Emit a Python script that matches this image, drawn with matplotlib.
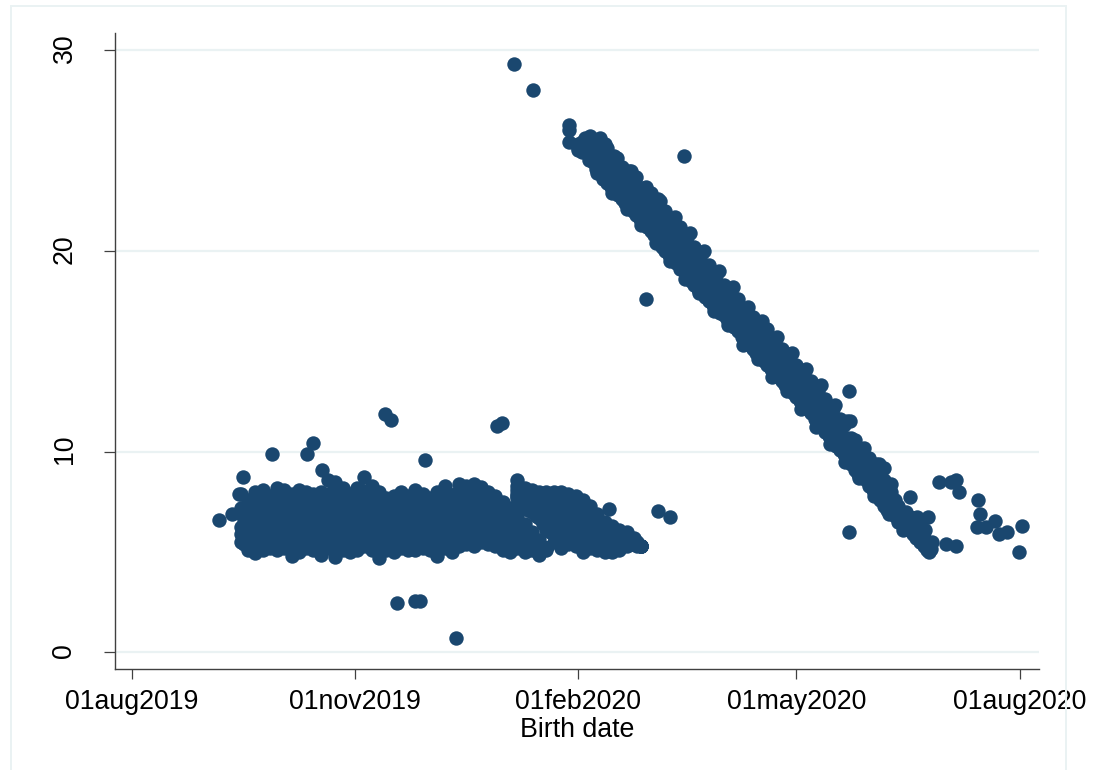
import matplotlib
matplotlib.use("Agg")
import matplotlib.pyplot as plt
from matplotlib.patches import Rectangle
from matplotlib.transforms import ScaledTranslation

plt.rcParams["font.family"] = ["Liberation Sans", "DejaVu Sans"]

# all x values are days since 01aug2019
tick_days = [0, 92, 184, 274, 366]
tick_names = ["01aug2019", "01nov2019", "01feb2020", "01may2020", "01aug2020"]
y_ticks = [0, 10, 20, 30]

# flat cloud, left part
flat_day = [45, 48, 51, 54, 57, 60, 63, 66, 69, 72, 75, 78, 81, 84, 87, 90, 93, 96, 99, 102, 105, 108,
            111, 114, 117, 120, 123, 126, 129, 132, 135, 138, 141, 144, 147, 150, 153, 156, 159, 162,
            165, 168, 171]
flat_top = [7.9, 7.6, 8.0, 8.1, 7.8, 8.2, 8.1, 7.9, 8.1, 8.0, 7.9, 8.0, 8.6, 8.5, 8.2, 7.9, 8.2, 8.75, 8.3, 8.0, 7.7, 7.8,
            8.0, 7.8, 8.1, 7.9, 7.7, 8.0, 8.3, 7.8, 8.4, 8.3, 8.4, 8.25, 8.0, 7.8, 7.5, 7.2, 6.8, 6.4,
            6.0, 5.6, 5.2]
flat_r1 = [7.2, 7.2, 7.4, 7.5, 7.3, 7.5, 7.6, 7.3, 7.4, 7.5, 7.3, 7.4, 7.8, 7.7, 7.6, 7.3, 7.5, 7.9, 7.6, 7.4, 7.2, 7.3,
           7.4, 7.3, 7.5, 7.3, 7.2, 7.4, 7.6, 7.3, 7.7, 7.6, 7.7, 7.6, 7.4, 7.2, 7.0, 6.8, 6.5, 6.1,
           5.8, 5.4, 5.1]
flat_r2 = [6.9, 6.8, 6.8, 6.9, 6.7, 6.9, 7.0, 6.8, 6.9, 6.8, 6.7, 6.9, 7.1, 7.0, 6.9, 6.8, 6.9, 7.1, 7.0, 6.8, 6.7, 6.8,
           6.9, 6.7, 6.9, 6.8, 6.7, 6.8, 7.0, 6.8, 7.0, 7.0, 7.1, 7.0, 6.9, 6.7, 6.5, 6.3, 6.1, 5.8,
           5.6, 5.2, 5.2]
flat_r3 = [6.25, 6.3, 6.2, 6.3, 6.1, 6.3, 6.4, 6.2, 6.3, 6.2, 6.1, 6.3, 6.5, 6.4, 6.3, 6.2, 6.3, 6.5, 6.4, 6.2, 6.1, 6.2,
           6.3, 6.1, 6.3, 6.2, 6.1, 6.2, 6.4, 6.2, 6.4, 6.5, 6.5, 6.5, 6.4, 6.2, 6.0, 5.9, 5.8, 5.5,
           5.4, 5.1, 5.2]
flat_r4 = [5.9, 5.7, 5.6, 5.7, 5.6, 5.7, 5.8, 5.5, 5.7, 5.7, 5.6, 5.7, 5.9, 5.6, 5.8, 5.6, 5.7, 5.9, 5.8, 5.5, 5.6, 5.6,
           5.8, 5.6, 5.7, 5.7, 5.6, 5.5, 5.8, 5.6, 5.9, 5.9, 5.9, 6.0, 5.9, 5.8, 5.6, 5.5, 5.5, 5.2,
           5.3, 5.0, 5.2]
flat_bot = [5.5, 5.1, 4.95, 5.1, 5.2, 5.1, 5.2, 4.8, 5.0, 5.2, 5.1, 4.85, 5.2, 4.75, 5.1, 5.0, 5.1, 5.3, 5.1, 4.7, 5.1, 5.0,
            5.2, 5.1, 5.1, 5.2, 5.1, 4.8, 5.2, 5.0, 5.3, 5.4, 5.3, 5.5, 5.4, 5.3, 5.1, 5.0, 5.2, 5.0,
            5.1, 4.85, 5.2]

# births between those columns
flat2_day = [46.5, 49.5, 52.5, 55.5, 58.5, 61.5, 64.5, 67.5, 70.5, 73.5, 76.5, 79.5, 82.5, 85.5, 88.5, 91.5,
             94.5, 97.5, 100.5, 103.5, 106.5, 109.5, 112.5, 115.5, 118.5, 121.5, 124.5, 127.5, 130.5, 133.5,
             136.5, 139.5, 142.5, 145.5, 148.5, 151.5, 154.5, 157.5, 160.5, 163.5, 166.5]
flat2_a = [7.0, 7.5, 7.7, 7.6, 7.7, 7.8, 7.6, 7.6, 7.7, 7.6, 7.6, 7.9, 8.0, 7.9, 7.6, 7.7, 8.1, 7.9, 7.6, 7.4, 7.5,
           7.7, 7.5, 7.7, 7.6, 7.4, 7.6, 7.9, 7.5, 7.9, 7.9, 8.0, 7.9, 7.6, 7.4, 7.2, 7.0, 6.6, 6.2, 5.9, 5.5]
flat2_b = [6.9, 7.0, 7.1, 7.2, 7.0, 7.2, 7.3, 7.1, 7.2, 7.1, 7.0, 7.2, 7.4, 7.3, 7.2, 7.1, 7.2, 7.4, 7.3, 7.1, 7.0,
           7.1, 7.2, 7.0, 7.2, 7.1, 7.0, 7.1, 7.3, 7.1, 7.3, 7.3, 7.4, 7.3, 7.1, 6.9, 6.7, 6.5, 6.3, 5.9, 5.6]
flat2_c = [6.5, 6.5, 6.5, 6.6, 6.4, 6.6, 6.7, 6.5, 6.6, 6.5, 6.4, 6.6, 6.8, 6.7, 6.6, 6.5, 6.6, 6.8, 6.7, 6.5, 6.4,
           6.5, 6.6, 6.4, 6.6, 6.5, 6.4, 6.5, 6.7, 6.5, 6.7, 6.7, 6.8, 6.7, 6.6, 6.4, 6.2, 6.0, 5.9, 5.6, 5.4]
flat2_d = [6.0, 6.0, 5.9, 6.0, 5.8, 6.0, 6.1, 5.9, 6.0, 5.9, 5.8, 6.0, 6.2, 6.0, 6.0, 5.9, 6.0, 6.2, 6.1, 5.9, 5.8,
           5.9, 6.0, 5.8, 6.0, 5.9, 5.8, 5.9, 6.1, 5.9, 6.1, 6.2, 6.2, 6.2, 6.1, 6.0, 5.8, 5.7, 5.6, 5.3, 5.3]
flat2_e = [5.4, 5.3, 5.3, 5.4, 5.4, 5.4, 5.5, 5.2, 5.3, 5.4, 5.3, 5.4, 5.5, 5.2, 5.4, 5.3, 5.4, 5.6, 5.4, 5.3, 5.3,
           5.3, 5.5, 5.3, 5.4, 5.4, 5.3, 5.2, 5.5, 5.3, 5.6, 5.6, 5.6, 5.7, 5.6, 5.5, 5.3, 5.2, 5.3, 5.1, 5.1]

# flat cloud, right part behind the small white gap
late_day = [159, 162, 165, 168, 171, 174, 177, 180, 183, 186, 189, 192, 195, 198, 201, 204, 207, 210]
late_top = [8.6, 8.2, 8.1, 8.0, 8.0, 8.0, 8.0, 7.9, 7.8, 7.6, 7.3, 6.9, 6.5, 6.3, 6.1, 6.0, 5.7, 5.3]
late_r1 = [8.3, 8.0, 7.8, 7.6, 7.5, 7.4, 7.4, 7.3, 7.2, 7.0, 6.8, 6.5, 6.2, 6.0, 5.9, 5.8, 5.6, 5.3]
late_r2 = [8.1, 7.7, 7.5, 7.2, 7.0, 6.8, 6.8, 6.8, 6.7, 6.5, 6.3, 6.1, 5.9, 5.8, 5.6, 5.6, 5.5, 5.3]
late_r3 = [7.9, 7.5, 7.2, 6.9, 6.6, 6.3, 6.2, 6.3, 6.2, 6.0, 5.9, 5.7, 5.6, 5.5, 5.4, 5.5, 5.4, 5.3]
late_r4 = [7.8, 7.4, 7.1, 6.8, 6.3, 5.9, 5.7, 5.8, 5.7, 5.5, 5.5, 5.4, 5.3, 5.2, 5.2, 5.4, 5.4, 5.3]
late_bot = [7.7, 7.3, 7.0, 6.7, 6.1, 5.5, 5.2, 5.4, 5.3, 5.0, 5.2, 5.1, 5.0, 5.0, 5.1, 5.3, 5.4, 5.3]

late2_day = [160.5, 163.5, 166.5, 169.5, 172.5, 175.5, 178.5, 181.5, 184.5, 187.5, 190.5, 193.5, 196.5,
             199.5, 202.5, 205.5, 208.5]
late2_a = [8.0, 7.9, 7.7, 7.7, 7.7, 7.7, 7.6, 7.5, 7.3, 7.1, 6.7, 6.3, 6.1, 6.0, 5.9, 5.7, 5.5]
late2_b = [7.6, 7.4, 7.1, 6.9, 6.7, 6.7, 6.6, 6.5, 6.3, 6.1, 5.9, 5.8, 5.7, 5.6, 5.5, 5.5, 5.4]
late2_c = [7.4, 7.1, 6.8, 6.4, 6.0, 5.7, 5.8, 5.7, 5.5, 5.5, 5.4, 5.3, 5.3, 5.2, 5.3, 5.4, 5.3]

# falling band
diag_day = [184, 187, 190, 193, 196, 199, 202, 205, 208, 211, 214, 217, 220, 223, 226, 229, 232,
            235, 238, 241, 244, 247, 250, 253, 256, 259, 262, 265, 268, 271, 274, 277, 280, 283,
            286, 289, 292, 295, 298, 301, 304, 307, 310, 313, 316, 319, 322, 325, 328]
diag_top = [25.3, 25.6, 25.5, 25.6, 25.1, 24.7, 24.2, 24.0, 23.7, 23.15, 22.9, 22.6, 22.0, 21.6, 21.2, 20.7, 20.2,
            19.9, 19.3, 18.8, 18.3, 18.0, 17.6, 17.0, 16.7, 16.3, 16.1, 15.4, 15.1, 14.6, 14.3, 13.9, 13.5, 13.0,
            12.6, 12.1, 11.6, 11.5, 10.6, 9.9, 9.7, 9.4, 9.2, 8.4, 7.3, 7.0, 6.7, 6.2, 5.5]
diag_hi = [25.2, 25.4, 25.1, 25.0, 24.6, 24.1, 23.7, 23.4, 23.0, 22.5, 22.2, 21.9, 21.3, 20.9, 20.5, 20.0, 19.6,
           19.2, 18.7, 18.2, 17.8, 17.4, 16.9, 16.4, 16.1, 15.7, 15.3, 14.9, 14.5, 14.1, 13.7, 13.3, 12.9, 12.4,
           12.0, 11.5, 11.1, 10.7, 10.1, 9.6, 9.2, 8.8, 8.6, 8.0, 7.0, 6.7, 6.4, 5.9, 5.4]
diag_lo = [25.1, 25.1, 24.8, 24.5, 24.0, 23.6, 23.1, 22.8, 22.4, 22.0, 21.6, 21.2, 20.7, 20.2, 19.8, 19.3, 18.9,
           18.5, 18.1, 17.7, 17.3, 16.9, 16.5, 15.9, 15.6, 15.2, 14.8, 14.4, 14.0, 13.6, 13.2, 12.8, 12.4, 11.9,
           11.5, 11.0, 10.6, 10.1, 9.6, 9.2, 8.8, 8.4, 7.9, 7.5, 6.8, 6.5, 6.2, 5.7, 5.2]
diag_bot = [25.0, 24.9, 24.4, 24.0, 23.4, 23.0, 22.6, 22.2, 21.8, 21.4, 21.0, 20.5, 20.0, 19.6, 19.1, 18.7, 18.3,
            17.9, 17.5, 17.1, 16.8, 16.4, 16.0, 15.4, 15.1, 14.7, 14.3, 13.9, 13.5, 13.1, 12.7, 12.3, 11.9, 11.4,
            11.0, 10.5, 10.1, 9.6, 9.1, 8.8, 8.3, 7.9, 7.3, 7.0, 6.5, 6.2, 5.9, 5.5, 5.1]

diag2_day = [185.5, 188.5, 191.5, 194.5, 197.5, 200.5, 203.5, 206.5, 209.5, 212.5, 215.5, 218.5, 221.5, 224.5,
             227.5, 230.5, 233.5, 236.5, 239.5, 242.5, 245.5, 248.5, 251.5, 254.5, 257.5, 260.5, 263.5, 266.5,
             269.5, 272.5, 275.5, 278.5, 281.5, 284.5, 287.5, 290.5, 293.5, 296.5, 299.5, 302.5, 305.5, 308.5,
             311.5, 314.5, 317.5, 320.5, 323.5, 326.5]
diag2_a = [25.4, 25.3, 25.2, 24.9, 24.4, 24.1, 23.7, 23.4, 22.9, 22.6, 22.3, 21.8, 21.4, 21.0, 20.6, 20.1, 19.7, 19.3,
           18.7, 18.3, 17.9, 17.5, 17.0, 16.6, 16.2, 15.9, 15.4, 15.0, 14.6, 14.2, 13.8, 13.4, 12.9, 12.5, 12.1, 11.6,
           11.3, 10.7, 10.1, 9.6, 9.3, 9.0, 8.4, 7.6, 7.0, 6.7, 6.3, 5.7]
diag2_b = [25.1, 24.9, 24.6, 24.3, 23.9, 23.5, 23.1, 22.8, 22.3, 22.0, 21.7, 21.2, 20.8, 20.4, 20.0, 19.5, 19.1, 18.7,
           18.2, 17.8, 17.4, 17.0, 16.5, 16.1, 15.7, 15.3, 14.9, 14.5, 14.1, 13.7, 13.3, 12.9, 12.4, 12.0, 11.5, 11.1,
           10.7, 10.2, 9.7, 9.2, 8.9, 8.4, 8.0, 7.3, 6.8, 6.4, 6.0, 5.5]
diag2_c = [24.9, 24.5, 24.1, 23.6, 23.2, 22.8, 22.4, 22.0, 21.6, 21.2, 20.8, 20.2, 19.8, 19.4, 19.0, 18.5, 18.1, 17.7,
           17.3, 16.9, 16.6, 16.2, 15.7, 15.3, 14.9, 14.5, 14.1, 13.7, 13.3, 12.9, 12.5, 12.1, 11.6, 11.2, 10.8, 10.3,
           9.9, 9.4, 8.9, 8.6, 8.1, 7.6, 7.1, 6.8, 6.4, 6.1, 5.7, 5.3]

# lumps sticking out of the band edges
under_day = [192, 198, 204, 210, 216, 222, 228, 234, 240, 246, 252, 258, 264, 270, 276, 282, 288, 294, 300, 306, 312, 318]
under_val = [23.9, 22.9, 22.1, 21.3, 20.4, 19.5, 18.6, 17.9, 17.0, 16.3, 15.3, 14.6, 13.7, 13.0, 12.1, 11.2, 10.4, 9.5,
             8.7, 7.8, 6.9, 6.1]
over_day = [189, 195, 200, 206, 212, 218, 224, 230, 236, 242, 248, 254, 260, 266, 272, 278, 284, 290, 296, 302, 308,
            318, 321, 325, 327, 330]
over_val = [25.7, 25.3, 24.6, 24.0, 23.2, 22.5, 21.7, 20.9, 20.0, 19.0, 18.2, 17.2, 16.5, 15.7, 14.9, 14.1, 13.3, 12.3,
            11.5, 10.2, 9.4, 6.9, 6.75, 6.45, 6.1, 5.5]

# single points that stand apart
lone_day = [35.9, 41.6, 44.5, 45.8, 57.7, 72.5, 74.6, 78.7, 104.3, 106.8, 120.8, 109.6, 116.7, 118.7,
            133.6, 150.5, 152.5, 157.5, 165.3, 180.5, 180.5, 180.5, 227.5, 211.9, 216.8, 221.8, 196.6,
            295.5, 295.5, 332.9, 339.9, 337.8, 340.9, 348.7, 349.6, 348.5, 352, 355.7, 357.4, 361,
            366.9, 365.8, 335.5, 339.9, 320.7, 328.4, 323.6, 328.5, 329.5]
lone_val = [6.59, 6.89, 7.88, 8.73, 9.87, 9.87, 10.42, 9.08, 11.87, 11.57, 9.58, 2.46, 2.55, 2.55,
            0.72, 11.27, 11.42, 29.3, 28.0, 26.25, 26.0, 25.4, 24.7, 17.6, 7.04, 6.74, 7.14,
            13.0, 6.0, 8.48, 8.58, 8.5, 7.98, 7.6, 6.87, 6.26, 6.26, 6.55, 5.88, 6.0,
            6.27, 5.0, 5.41, 5.29, 7.72, 6.74, 6.75, 5.01, 5.14]

W, H = 1095, 770
navy = "#1a476f"
pale = "#eaf2f3"
dot = 108

fig = plt.figure(figsize=(W / 100, H / 100), dpi=100, facecolor="white")
fig.add_artist(Rectangle((10.5 / W, -0.01), (1066 - 10.5) / W, 1 - 5.5 / H + 0.01,
                         transform=fig.transFigure, fill=False, edgecolor=pale, linewidth=1.4))

ax = fig.add_axes([115 / W, (H - 669) / H, (1039 - 115) / W, (669 - 33) / H])

groups = [
    (flat_day, [flat_top, flat_r1, flat_r2, flat_r3, flat_r4, flat_bot]),
    (flat2_day, [flat2_a, flat2_b, flat2_c, flat2_d, flat2_e]),
    (late_day, [late_top, late_r1, late_r2, late_r3, late_r4, late_bot]),
    (late2_day, [late2_a, late2_b, late2_c]),
    (diag_day, [diag_top, diag_hi, diag_lo, diag_bot]),
    (diag2_day, [diag2_a, diag2_b, diag2_c]),
    (under_day, [under_val]),
    (over_day, [over_val]),
    (lone_day, [lone_val]),
]
for days, rows in groups:
    for row in rows:
        ax.scatter(days, row, s=dot, color=navy, linewidths=0, zorder=3)

ax.set_xlim(-6.8, 374)
ax.set_ylim(-0.83, 30.85)
ax.set_xticks(tick_days)
ax.set_xticklabels(tick_names, fontsize=19.3)
ax.set_yticks(y_ticks)
ax.set_yticklabels(y_ticks, fontsize=19.3, rotation=90, va="center")
ax.set_xlabel("Birth date", fontsize=19.3, labelpad=1)
ax.tick_params(axis="x", length=7.5, width=0.9, color="#404040", pad=7)
ax.tick_params(axis="y", length=8, width=0.9, color="#404040", pad=19)
# y labels sit about 2 px too low otherwise
for lab in ax.get_yticklabels():
    lab.set_transform(lab.get_transform() + ScaledTranslation(0, 2 / 100, fig.dpi_scale_trans))
ax.yaxis.grid(True, color=pale, linewidth=1.6)
ax.set_axisbelow(True)
ax.spines["top"].set_visible(False)
ax.spines["right"].set_visible(False)
ax.spines["left"].set_color("#404040")
ax.spines["bottom"].set_color("#404040")
ax.spines["left"].set_linewidth(1)
ax.spines["bottom"].set_linewidth(1)

fig.savefig("out.png", dpi=100)
